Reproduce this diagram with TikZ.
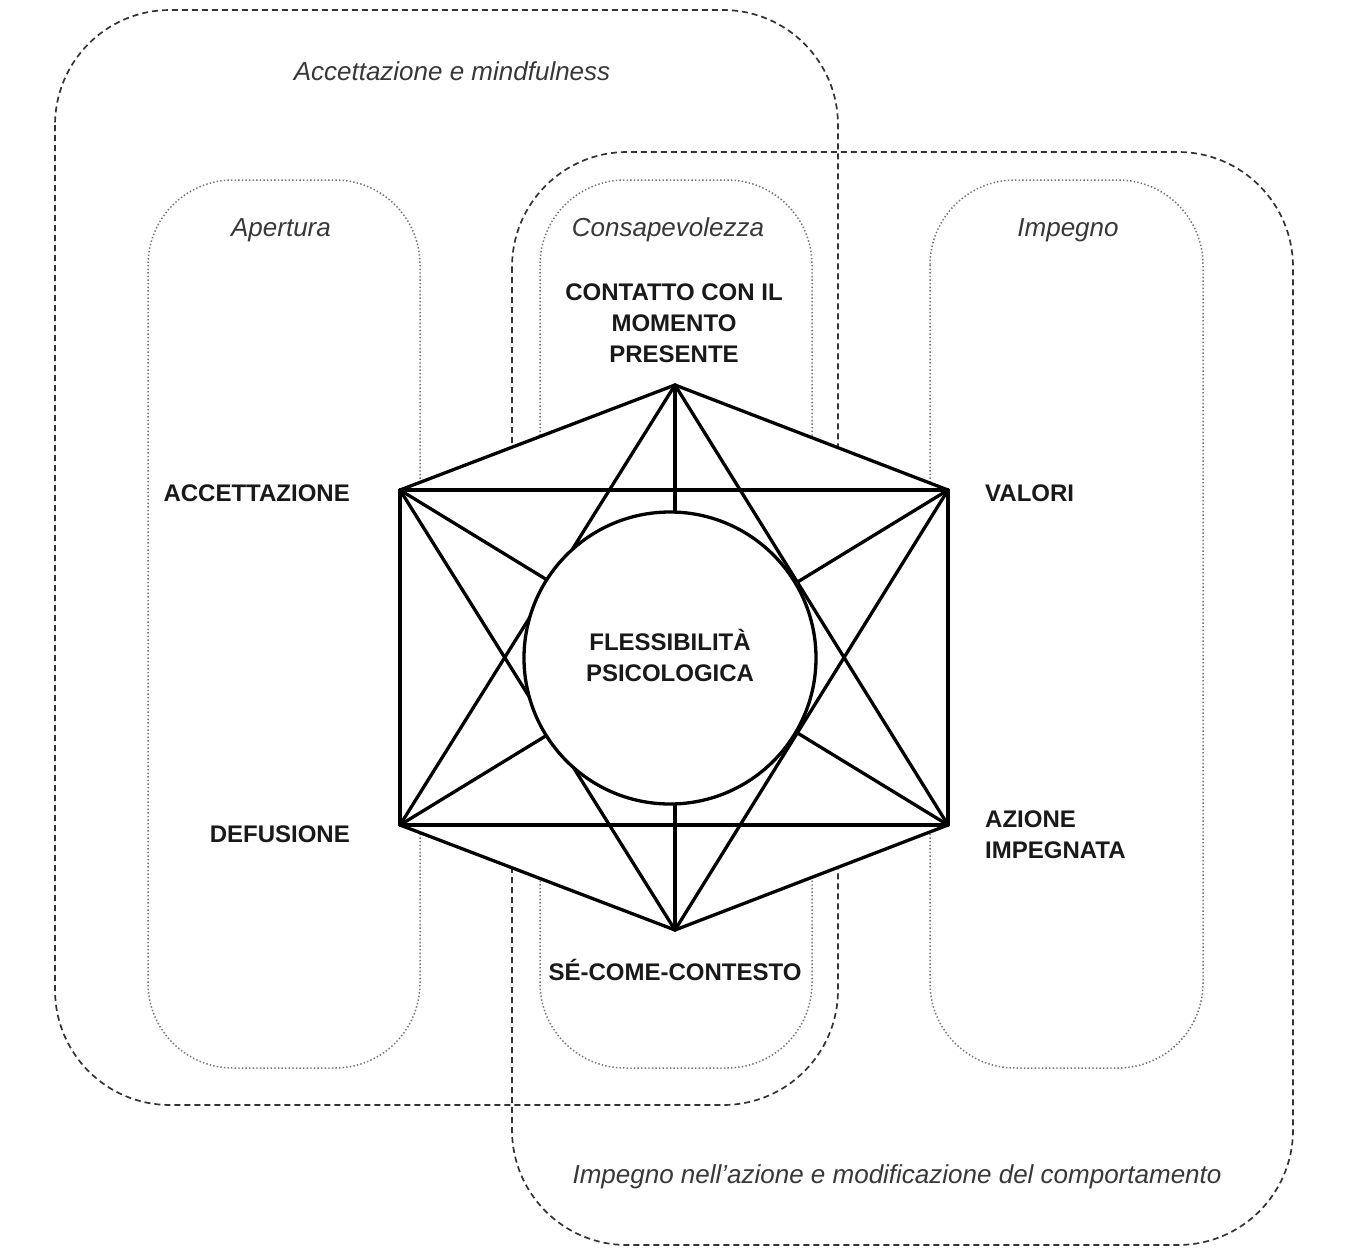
\documentclass[tikz,border=0pt]{standalone}
\usepackage{fontspec}
\setmainfont{Liberation Sans}
\newcommand\ls{\rule[-8pt]{0pt}{31pt}}
\begin{document}
\begin{tikzpicture}[x=1pt,y=-1pt,
  outerbox/.style={draw=black!80, line width=1.7pt, dash pattern=on 6pt off 4pt, rounded corners=115pt},
  innerbox/.style={draw=black!55, line width=1.5pt, dash pattern=on 1.4pt off 2.2pt, rounded corners=85pt},
  grp/.style={font=\itshape\fontsize{26}{31}\selectfont, text=black!78, inner sep=0, text height=19pt, text depth=5pt},
  lab/.style={font=\bfseries\fontsize{24}{31}\selectfont, text=black!90, inner sep=0, align=center},
  hexline/.style={line width=3.3pt, line cap=round, line join=round}]
\useasboundingbox[fill=white] (0,0) rectangle (1357,1255);

% group boxes
\draw[outerbox] (55,10) rectangle (838,1105);
\draw[outerbox] (512,152) rectangle (1293,1245);
\draw[innerbox] (148,180) rectangle (420,1068);
\draw[innerbox] (540,180) rectangle (812,1068);
\draw[innerbox] (930,180) rectangle (1203,1068);

% group labels
\node[grp] (gam) at (452,74) {Accettazione e mindfulness};
\node[grp] (gap) at (281,229) {Apertura};
\node[grp] (gco) at (668,229) {Consapevolezza};
\node[grp] (gim) at (1068,229) {Impegno};
\node[grp] (gia) at (897,1176) {Impegno nell’azione e modificazione del comportamento};

% hexagon vertices
\coordinate (T)  at (675,385);
\coordinate (UL) at (400,490);
\coordinate (UR) at (948,490);
\coordinate (LL) at (400,825);
\coordinate (LR) at (948,825);
\coordinate (B)  at (675,930);

\fill[white] (T) -- (UR) -- (LR) -- (B) -- (LL) -- (UL) -- cycle;
\foreach \a/\b in {T/UR, UR/LR, LR/B, B/LL, LL/UL, UL/T, UL/UR, LL/LR, T/LL, T/LR, B/UL, B/UR, UL/LR, UR/LL, T/B}
  \draw[hexline] (\a) -- (\b);

\node[circle, draw, line width=3.3pt, fill=white, minimum size=292pt, inner sep=0, lab] (core) at (670,658)
  {\ls FLESSIBILITÀ\\\ls PSICOLOGICA};

% process labels
\node[lab] (cmp) at (674,324) {\ls CONTATTO CON IL\\\ls MOMENTO\\\ls PRESENTE};
\node[lab, anchor=east] (acc) at (350,494) {\ls ACCETTAZIONE};
\node[lab, anchor=east] (def) at (350,835) {\ls DEFUSIONE};
\node[lab, anchor=west] (val) at (985,494) {\ls VALORI};
\node[lab, anchor=west, align=left] (azi) at (985,835.5) {\ls AZIONE\\\ls IMPEGNATA};
\node[lab] (sec) at (675,973) {\ls SÉ-COME-CONTESTO};
\end{tikzpicture}
\end{document}
